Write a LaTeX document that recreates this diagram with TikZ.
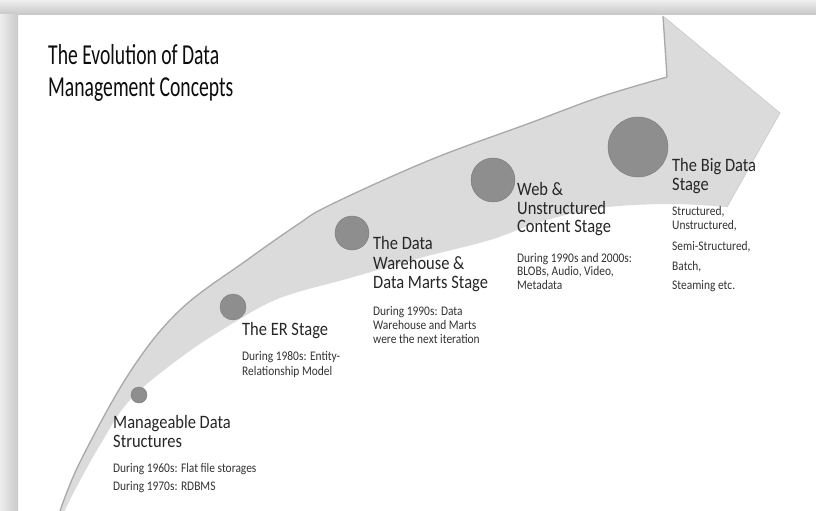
\documentclass[tikz,border=0pt]{standalone}
\usepackage{fontspec}
\setmainfont{Carlito}
\newfontfamily\titlefont[FakeStretch=0.68]{Carlito}
\newfontfamily\bodyfont[FakeStretch=0.87]{Carlito}
\definecolor{bandgray}{HTML}{DBDBDB}
\definecolor{edgegray}{HTML}{A8A8A8}
\definecolor{dotgray}{HTML}{8E8E8E}
\definecolor{headtxt}{HTML}{262626}
\definecolor{smalltxt}{HTML}{333333}
\tikzset{
  titletext/.style={anchor=base west, inner sep=0pt, text=black!95,
    font=\titlefont\fontsize{29}{32}\selectfont},
  headtext/.style={anchor=base west, inner sep=0pt, text=headtxt,
    font=\bodyfont\fontsize{19}{19.5}\selectfont},
  smalltext/.style={anchor=base west, inner sep=0pt, text=smalltxt,
    font=\bodyfont\fontsize{13.2}{14}\selectfont},
  dot/.style={circle, fill=dotgray, draw=dotgray!85!black, line width=0.4pt, inner sep=0pt}
}
\begin{document}
\begin{tikzpicture}[x=1bp,y=-1bp]
\useasboundingbox (0,0) rectangle (816,511);
\fill[white] (0,0) rectangle (816,511);
% frame shadow bands
\shade[top color=gray!12, bottom color=gray!45] (0,0) rectangle (816,15);
\shade[left color=gray!14, right color=gray!42] (0,15) rectangle (18,511);
% arrow body
\fill[bandgray]
  plot[smooth, tension=0.6] coordinates {(59,514) (80,462) (130,372) (180,310) (247,260) (297,225) (330,205) (430,160) (530,123) (600,97) (667,77)}
  -- (663,16) -- (780,113) -- (727,207)
  -- plot[smooth, tension=0.6] coordinates {(727,207) (670,204) (600,208) (540,222) (490,240) (420,258) (350,278) (280,298) (230,325) (180,358) (130,400) (100,445) (75,490) (63,514)}
  -- cycle;
\draw[edgegray, line width=1.3pt, line join=round]
  plot[smooth, tension=0.6] coordinates {(59,514) (80,462) (130,372) (180,310) (247,260) (297,225) (330,205) (430,160) (530,123) (600,97) (667,77)}
  -- (663,16);
\draw[bandgray!92!black, line width=0.6pt] (663,16) -- (780,113) -- (727,207);
% dots
\node[dot, minimum size=16bp] (d1) at (139,395) {};
\node[dot, minimum size=26bp] (d2) at (233,307) {};
\node[dot, minimum size=34bp] (d3) at (352,233) {};
\node[dot, minimum size=44bp] (d4) at (493,180) {};
\node[dot, minimum size=60bp] (d5) at (638,147) {};
% title
\node[titletext] (title1) at (48,65) {The Evolution of Data};
\node[titletext] (title2) at (48,97) {Management Concepts};
% stage 1
\node[headtext] (h1a) at (113,428) {Manageable Data};
\node[headtext] (h1b) at (113,447) {Structures};
\node[smalltext] (s1a) at (113,472) {During 1960s: Flat file storages};
\node[smalltext] (s1b) at (113,490) {During 1970s: RDBMS};
% stage 2
\node[headtext] (h2) at (242,335) {The ER Stage};
\node[smalltext] (s2a) at (242,360) {During 1980s: Entity-};
\node[smalltext] (s2b) at (242,375) {Relationship Model};
% stage 3
\node[headtext] (h3a) at (373,250) {The Data};
\node[headtext] (h3b) at (373,270) {Warehouse \&};
\node[headtext] (h3c) at (373,289) {Data Marts Stage};
\node[smalltext] (s3a) at (373,316) {During 1990s: Data};
\node[smalltext] (s3b) at (373,329) {Warehouse and Marts};
\node[smalltext] (s3c) at (373,343) {were the next iteration};
% stage 4
\node[headtext] (h4a) at (517,196) {Web \&};
\node[headtext] (h4b) at (517,215) {Unstructured};
\node[headtext] (h4c) at (517,233) {Content Stage};
\node[smalltext] (s4a) at (517,263) {During 1990s and 2000s:};
\node[smalltext] (s4b) at (517,276) {BLOBs, Audio, Video,};
\node[smalltext] (s4c) at (517,290) {Metadata};
% stage 5
\node[headtext] (h5a) at (672,172) {The Big Data};
\node[headtext] (h5b) at (672,191) {Stage};
\node[smalltext] (s5a) at (672,216) {Structured,};
\node[smalltext] (s5b) at (672,230) {Unstructured,};
\node[smalltext] (s5c) at (672,251) {Semi-Structured,};
\node[smalltext] (s5d) at (672,271) {Batch,};
\node[smalltext] (s5e) at (672,290) {Steaming etc.};
\end{tikzpicture}
\end{document}
